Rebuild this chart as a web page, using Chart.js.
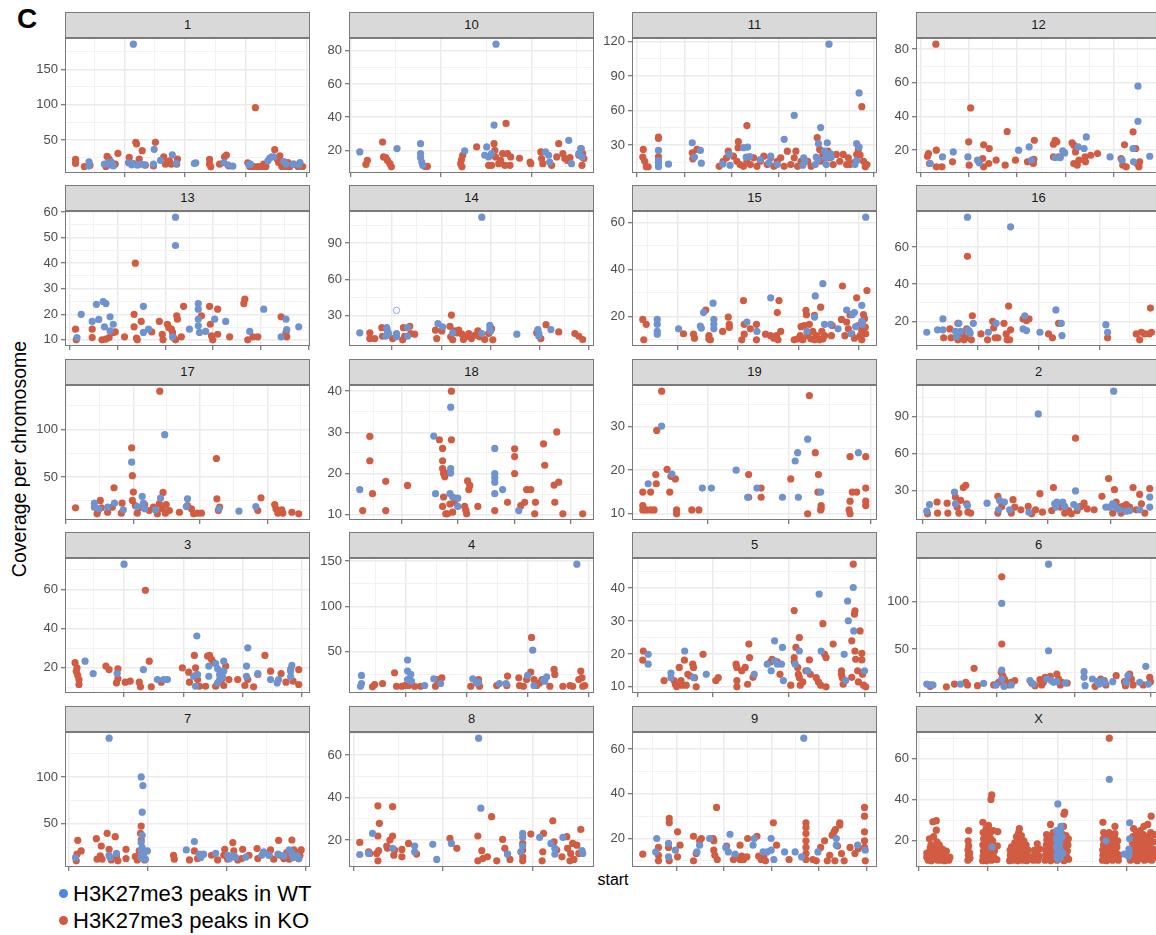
<!DOCTYPE html>
<html>
<head>
<meta charset="utf-8">
<script src="https://cdn.jsdelivr.net/npm/chart.js@4.4.1/dist/chart.umd.min.js"></script>
<style>
  body { margin: 0; width: 1156px; height: 935px; overflow: hidden; background: #fff; position: relative;
         font-family: 'Liberation Sans', Arial, sans-serif; }
  .strip { position: absolute; box-sizing: border-box; background: #d9d9d9; border: 1px solid #7a7a7a;
           text-align: center; line-height: 24px; font-size: 13px; color: #1a1a1a;
           font-family: 'Liberation Sans Narrow', 'Liberation Sans', Arial, sans-serif; }
  canvas.panel { position: absolute; }
  .lbl { position: absolute; white-space: nowrap; color: #000; }
  .dot { position: absolute; width: 9px; height: 9px; border-radius: 50%; }
</style>
</head>
<body>
<div class="lbl" style="left:17px;top:5px;font-size:28px;line-height:28px;font-weight:bold;">C</div>
<div class="lbl" style="left:-131px;top:447px;width:300px;text-align:center;font-size:19.5px;line-height:24px;transform:rotate(-90deg);">Coverage per chromosome</div>
<div class="lbl" style="left:563px;top:871px;width:100px;text-align:center;font-size:16px;line-height:18px;">start</div>
<div class="dot" style="left:59px;top:889px;background:#4a88e6;"></div>
<div class="lbl" style="left:73px;top:880px;font-size:22px;line-height:27px;">H3K27me3 peaks in WT</div>
<div class="dot" style="left:59px;top:916px;background:#d0583f;"></div>
<div class="lbl" style="left:73px;top:907px;font-size:22px;line-height:27px;">H3K27me3 peaks in KO</div>

<script>
// facet order as in the figure
const chromosomes = ['1','10','11','12','13','14','15','16','17','18','19','2','3','4','5','6','7','8','9','X'];

// [start (position across the panel, 0-100), coverage]
const chr1_wt = [[9.8,19],[9.8,13],[16.1,15.7],[17.7,18],[18.4,14.8],[19,18.6],[19.7,13.3],[25.9,17.6],[27.2,14.8],[27.9,185.7],[27.9,16.7],[29.5,14.3],[31.1,15.7],[32.5,14.8],[36.1,15.7],[36.4,36.7],[39,21],[43.8,29],[45.4,16.7],[52.8,16.7],[53.4,17.6],[64.8,18],[66.4,14.8],[68.5,12.9],[75.1,14.8],[75.7,15.7],[82.8,20.5],[83.6,24.3],[84.4,26.2],[85.2,26.2],[89.3,19.5],[90.2,15.7],[93.1,15.7],[95.4,14.8],[95.9,18]];
const chr1_ko = [[4.3,22.4],[4.3,16.7],[7.9,12.4],[10.2,14],[17.2,26.7],[18,22.9],[21.6,31],[20.5,15.7],[16.7,12.4],[26.2,25.2],[28.9,46.7],[29.2,44.3],[31.5,34.8],[30.3,22.9],[32.8,14.3],[36.9,46.7],[36.1,13.3],[40.3,26.2],[41,15.7],[41.8,18],[42.6,20.5],[45.9,22.9],[45.6,15.7],[43.4,15.7],[59,22.4],[59,15.7],[59.5,11.9],[63.1,15.7],[65.1,26.2],[65.9,28.6],[66.9,13.3],[77.7,95.7],[74.6,17.6],[75.4,12.4],[77,12.4],[78.7,12.4],[80.3,12.4],[82,12.4],[81.1,15.7],[85.6,36.2],[86.6,22.9],[87.2,18],[88.5,12.4],[90.2,12.4],[91.8,12.4],[93.4,15.7],[95.1,12.4],[97,12.4],[91,18],[87.7,27.6]];

const chr10_wt = [[4.4,19],[19.6,21],[29.2,24],[29.2,18],[29.2,15.6],[29.7,12.9],[30.1,10.9],[47.2,19.6],[56.2,22],[55.4,17],[57,16],[58.2,18],[60,84],[59.2,35.2],[80.2,19],[81.5,17],[81.9,12.9],[89.7,26],[90.8,11.9],[93.8,18],[94.8,21],[95.1,16]];
const chr10_ko = [[6.9,11.5],[7.5,13.9],[13.7,25],[14.1,16],[15,15.6],[15.7,13.9],[16.7,11.9],[17.3,10],[30.9,10.3],[32,10.3],[45.6,11.9],[45.9,14.3],[46.4,17],[46.1,10],[52.1,22],[64.1,36.2],[59.2,24],[59.5,20],[59.8,16],[58.2,10.9],[61.1,11.9],[62.7,18],[64.7,18],[66,16],[63.6,10.9],[57,10.9],[65.7,10.9],[61.9,13.9],[69.6,15.2],[73.9,12.9],[74.2,11.9],[78.3,19],[78.6,15],[79.1,11.9],[82.7,10.9],[84.8,16],[85.6,24],[87.3,18],[88.1,15],[89.2,13.9],[90.2,15.6],[93.8,17],[94.6,21],[95.1,10.9],[95.4,18],[95.9,15]];

const chr11_wt = [[10.8,25.3],[10.8,16.5],[10.8,14.5],[10.8,11.2],[14.9,13.3],[24.6,32],[25.5,19.5],[27.9,25.3],[28.3,14.2],[37,13.6],[39.7,21.8],[40,12.4],[45.5,27.7],[47.2,28.2],[46.6,19.5],[48,20],[52.4,17.4],[55.9,14.5],[56.6,20.3],[59.3,13],[62.1,35],[66.2,55.8],[70.1,18.9],[69.7,12.4],[70.6,15.9],[77,45.2],[76.1,31.2],[75.2,19.5],[75.9,17.4],[74.8,13],[78.6,24.7],[79.3,13],[78.9,18.9],[79.7,32],[80.4,117.9],[81.1,22.4],[81.4,19.5],[91.7,31.2],[92.7,28.2],[91,13],[91.7,16.5],[92.7,75.4]];
const chr11_ko = [[4.6,26.2],[4.4,19.5],[5.2,15.9],[5.8,11],[6.6,11],[10.8,37],[10.8,35.9],[10.8,19.7],[24.6,23.3],[24.8,18],[26.5,26.2],[35.6,11.5],[37.2,15.9],[38.6,18.9],[39.3,24.7],[41.4,20.3],[42.8,15.9],[43.4,32.9],[43.3,27.7],[44.1,13],[45.5,11.5],[46.9,47],[46.9,15.9],[48.3,13],[49.7,18.9],[51,11.5],[52.4,15.9],[53.8,20.3],[55.2,13],[56.6,18.9],[57.9,11.5],[59.3,15.9],[60.7,18.9],[62.1,11.5],[63.4,24.7],[64.8,13],[66.2,18.9],[66.9,24.7],[67.6,11.5],[69,15.9],[73.1,11.5],[71.7,15.9],[75.6,36.4],[76.6,26.2],[77.2,15.9],[77.9,21.8],[80,24.7],[80.7,18.9],[82.1,13],[83.4,21.8],[84.8,15.9],[86.2,21.8],[87.6,13],[88.3,18.9],[89,13],[90.3,14.5],[91.7,21.8],[92.4,26.2],[93.1,21.2],[93.8,63.4],[94.5,15.9],[95.2,11],[95.9,13]];

const chr12_wt = [[5.8,12.1],[10.8,16],[15.2,19],[21.2,16],[25.1,14.1],[25.8,12.5],[41.9,20],[46.2,22],[47.2,14.1],[56.8,15.6],[58.9,15.6],[59.9,19.6],[60.7,18.4],[66.2,22],[68.6,21],[69.5,27.9],[79.2,16],[84.1,14.1],[88.6,21],[88.8,13.1],[90.6,37.2],[90.6,58],[95.4,16.4]];
const chr12_ko = [[8.1,83],[4.7,16.4],[5.1,18],[5.5,12.1],[8.3,20],[8.3,10.1],[10.6,10.1],[14.9,13.1],[22.3,45.1],[21.5,25],[21.7,11.1],[27.6,23.2],[29.9,21],[27.2,15],[27.6,10.1],[29.7,12.1],[32.7,14.1],[36.4,11.1],[37.2,31.1],[40.6,14.1],[45.5,13.1],[47.9,12.1],[48.1,14.5],[48.3,25.9],[56.1,23.6],[56.8,25.9],[57.5,25],[56.1,16],[58.2,16],[63.7,24.4],[64.4,23],[65.1,19],[64.4,12.1],[65.8,11.1],[66.5,14.1],[69,16],[69.2,13.1],[71.3,17],[74.1,18],[83.7,15],[84.4,11.1],[85.1,23.2],[85.8,10.1],[88.6,30.9],[89.7,21],[90.2,12.1],[91,10.1],[91.3,13.1]];

const chr13_wt = [[4.9,10.9],[6.6,20],[11.1,17.2],[12.8,23.9],[13.8,18],[15.6,25],[16.7,24.2],[16.1,15.1],[18.4,19],[18.4,13.5],[19.7,16.1],[32,23.1],[32,12.9],[34.1,14.2],[45.1,58],[45.1,46.9],[43.9,11.2],[50.8,14.2],[54.4,24.2],[54.4,22],[54.4,18.1],[54.4,15.5],[54.9,12.9],[57.4,13.3],[61.1,18.1],[65.6,17.2],[75.4,13.3],[81.1,22],[88.2,11.2],[90.2,18.1],[90.5,14],[95.4,15.1]];
const chr13_ko = [[4.3,14.2],[4.6,10],[11.1,14.2],[11.1,10.9],[15.1,10],[16.7,10.3],[18,10.9],[19.7,12.9],[20.5,13.1],[24.3,11.2],[28.7,40],[28.2,20],[28.2,15.1],[29.2,10.7],[29.5,10],[31.1,17.2],[35.4,13.1],[38.5,17.2],[39.7,12.2],[40,10],[41.8,16.1],[42.3,14.8],[43.4,14.2],[43.9,12.9],[44.3,10.9],[45.1,10],[45.6,19.4],[45.9,18.1],[47.5,11.2],[48.4,23.1],[55.7,19.4],[59,23.1],[59.3,16.1],[59.8,11.6],[60.3,10],[62.3,22],[62.3,12.2],[67.2,11.2],[73,24.2],[73.4,25.9],[74.6,10],[76.7,11.2],[78.7,11.2],[88.2,19],[90.2,12.9],[90.5,11.2]];

const chr14_wt = [[4.4,15.8],[15.4,20.1],[15.7,17.4],[16.2,15.2],[15,13],[19.4,15.2],[19.4,12.5],[23.9,20.1],[23.9,13],[36.3,23.4],[38.2,20.7],[42.3,15.8],[54.2,111.6],[54.2,15.2],[57.5,22],[57.5,19.3],[57.8,17.4],[68.5,14.7],[77.1,18.5],[77.5,15.2],[77.5,13],[82.4,18.5]];
const chr14_ko = [[8.5,15.8],[8.5,11.1],[10.5,11.1],[13.4,20.1],[13.7,13],[17.8,11.1],[21.9,10],[22.2,20.1],[22.7,13],[24.8,21.2],[25.2,15.2],[26.8,14.7],[35.3,18],[35.8,11.1],[37.9,17.4],[41.2,21.2],[41.8,30.5],[41.5,12.5],[42.3,10],[43.1,17.4],[44,15.8],[44.8,18],[46.1,14.7],[46.7,10.3],[47.7,12.5],[48.9,15.2],[50,11.1],[51.3,13.8],[52.6,17.4],[53.3,12.5],[55.4,10.3],[57,15.2],[58.2,19.3],[58.7,10],[76.6,15.8],[78.3,11.1],[80.4,22.6],[85.6,16.6],[92.2,15.2],[93.8,13],[95.4,10.3]];
const chr14_open = [[19.4,34.4]];

const chr15_wt = [[10.3,18.7],[10.3,16.6],[10.3,13.6],[10.3,12.4],[19,14.7],[27.9,15.9],[28.3,15],[29.2,21.6],[33.1,25.6],[33.4,18.7],[33.4,16.6],[33.4,14.7],[46.9,17.6],[51,13.6],[56.6,27.9],[71.4,13.6],[74.5,19.7],[74.8,28.7],[77.9,33.9],[78.6,16.6],[81.1,16.6],[84.1,14.7],[87.6,22.7],[89.9,20.7],[90.8,21.6],[89.4,12.6],[91.3,15.6],[93.8,24.7],[93.8,17.9],[94.1,16.6],[95.4,62.2]];
const chr15_ko = [[4.4,18.7],[5.8,16.6],[4.8,10],[21,12.6],[25.1,12.4],[25.5,10.7],[30.1,22.7],[31.4,11.8],[31.4,10.4],[32,10],[37,13.6],[39.3,19.7],[39.7,16.6],[39.7,15.3],[45.5,26.7],[45.8,16.6],[45.8,12.4],[44.8,10],[48.3,14.7],[50.8,16.6],[50.8,10],[54.5,12.4],[56.6,11.8],[57.9,10.7],[59,11.8],[59.6,10],[60.7,13.6],[59.3,21.6],[60,26.7],[66.2,10],[67.6,10.4],[68.7,11.8],[69,15.6],[70.3,16.1],[69.7,10],[71,22.6],[71.2,20.7],[71.7,11.8],[72.4,16.6],[73.1,10.4],[73.8,13.6],[74.5,20.4],[75.2,11.8],[75.9,10.7],[76.6,10],[77,23.9],[77.5,13.6],[77.9,10.4],[74.5,10],[78.6,11.8],[81.4,11.8],[81.7,16.1],[85.5,18.7],[85.9,32.9],[86.9,11.8],[87.6,17.6],[89,20.7],[88.3,14.7],[89.7,12.6],[90.8,10.7],[91.7,27.9],[92.4,16.1],[93.1,11.8],[93.8,10],[94.5,20.7],[94.9,19],[95.2,15.4],[95.4,12.6],[95.9,31],[93.8,14]];

const chr16_wt = [[4.4,14.1],[8.8,15.4],[11,15.4],[11,21.3],[16.1,14.6],[16.6,11.8],[17.5,18.9],[18.2,14.6],[21,76.1],[21.2,15.4],[21.8,14.6],[22.1,13.6],[23.4,18.9],[29.5,14.1],[32.7,18.9],[38.6,70.9],[44.4,23],[43.7,15.9],[45.1,15],[50.6,14.1],[57.1,26.1],[59.3,18.9],[59.6,12.3],[77.5,18.2],[78.2,14.1]];
const chr16_ko = [[11.3,11.1],[13.8,15.9],[14.3,11.1],[17.1,18.9],[18.9,13.2],[17.1,10],[19.6,10],[21,55],[20.7,15.9],[20.3,11.1],[22.6,10],[23,23],[26.5,13.2],[29.2,10],[31.3,20],[31.7,16.4],[32.3,11.1],[33.4,11.1],[35.9,18.9],[36.8,13.2],[37.2,10],[37.8,28.2],[38.6,15.4],[38.2,10],[43.7,21.3],[45.1,20.4],[46.1,21.3],[54.1,13.2],[55.7,11.1],[58.2,18.9],[78.2,11.1],[89.9,13.2],[91.3,10],[92,14.1],[93.4,13.2],[95.2,13.2],[95.7,27.1],[96.1,14.1]];

const chr17_wt = [[12,22.5],[12,18.3],[13.9,16.6],[17.4,18.3],[20.2,22.5],[23.8,15.5],[27.2,65.5],[29.5,19],[31.5,29.6],[32,22.5],[32.5,16.6],[36.9,15.5],[39,27.8],[40.7,94.4],[50,27.1],[49.5,19],[62.8,16.6],[71,14.1],[77.9,19]];
const chr17_ko = [[4.3,17.6],[13.1,11.3],[13.4,14.1],[14.4,25.4],[14.8,17.6],[17.4,13],[20,38.7],[19.3,18.3],[23.3,22.5],[23,12],[27.2,80.6],[27.5,51.4],[27.5,25.4],[27.9,34.2],[28.7,20.1],[29.5,12],[30.3,17.6],[32.5,21.1],[34.4,14.8],[36.1,18.3],[37.7,11.3],[38.5,21.8],[38.7,140.1],[39.7,16.6],[40,33.8],[41,12],[41.3,21.1],[42.6,14.8],[46.7,13],[50,20.1],[51.6,16.6],[52.5,11.3],[54.1,12],[55.7,12],[61.8,69.4],[62,27.1],[62.6,14.8],[63.1,18.3],[78.7,14.8],[80,28.2],[85.6,21.1],[86.1,16.6],[86.9,12],[88.5,15.5],[88.9,12],[92.6,13],[95.4,11.3]];

const chr18_wt = [[4.4,16.1],[34.6,29.1],[35.3,15.1],[41.5,36.1],[41.5,21.2],[41.5,20.1],[41.2,15.1],[42.3,14.3],[44.4,14],[44.4,12],[59.5,26.1],[59.5,20],[59.5,19],[59.5,17.9],[59.5,15.1],[62.7,16.1],[69.3,11]];
const chr18_ko = [[5.6,11],[8.5,29],[8.5,23.1],[9.6,15.1],[15,18.1],[15,11],[23.9,17.1],[36.9,28.2],[38.2,26.1],[38.2,23.1],[38.2,21.2],[38.6,20],[39.1,19.2],[39.5,20.1],[38.2,12],[38.6,14.3],[39.5,10.2],[41.8,40],[41.8,28.2],[41.2,12.6],[40.2,10.2],[42.3,10.6],[43.1,13],[47.2,12],[47.7,11.1],[48,10.2],[48.4,18.2],[48.9,16.1],[49.3,17.1],[52.6,12],[59.5,11],[64.7,13],[67.6,26],[67.6,24.1],[67.6,20],[70.1,12.2],[71.7,13],[72.5,16.1],[74.2,16.1],[75.8,10.2],[76.1,13],[79.4,27.2],[79.9,22],[83.7,17.2],[84,13],[84.8,30.1],[85.6,17.9],[87.3,10.2],[95.4,10.2]];

const chr19_wt = [[6.6,16.9],[12.1,30.1],[16.3,19.1],[28.7,15.9],[32.4,15.9],[42.5,20],[47.2,13.8],[51,15.9],[61.4,13.8],[66.6,22.1],[67.6,24],[71.7,27.1],[67.9,13.8],[77,15],[92.4,24]];
const chr19_ko = [[4.4,15],[4.4,11.9],[4.4,10.9],[5.8,10.9],[7.6,15],[7.6,10.9],[9,10.9],[9.7,19],[9.9,16.9],[10.1,29.1],[12.1,38.1],[14.3,20.2],[15.9,18.6],[17.7,18],[15.4,15],[18.2,10.9],[18.2,10],[24.4,10.9],[27.3,10.9],[47.6,19],[47.6,13.8],[52.7,15.9],[52.7,13.8],[64.8,18],[72.4,37.1],[74.8,24],[76.1,19],[75.9,15],[77.2,11.9],[77.2,11.2],[77,10.9],[71.7,10],[89,23.1],[89,12.9],[88.6,10.9],[89,10],[89.9,15],[91.7,15],[95.4,15.9],[95.4,12.9],[95.4,11.9],[95.4,23.1]];

const chr2_wt = [[4.4,13.1],[5.5,18.5],[15.7,28.6],[16.1,19.1],[21,17.7],[29,19.6],[33.7,14.2],[34.1,21.8],[36.1,20.5],[38.2,14.2],[46.1,12.3],[49.9,91.9],[56.6,19.1],[57.1,16.4],[57.5,20.5],[59.9,20.5],[60.7,16.9],[65.1,29.5],[64.4,18.5],[65.8,16.4],[77.5,16.4],[78.9,16.4],[80.7,110.4],[80.3,19.1],[81,17.7],[81.7,15.8],[83,14.2],[85.8,13.1],[87.2,13.6],[91.3,14.2],[95.4,24.5],[95.4,16.4]];
const chr2_ko = [[4.7,10.9],[8.6,20.5],[8.8,11.5],[12.7,19.6],[13,11.5],[16.1,24.5],[16.8,16.4],[17.5,11.5],[18.2,21.8],[19.3,32.2],[20.3,34.1],[20.7,19.1],[21.2,12.3],[22.3,11.5],[33.4,25.1],[33.4,11.5],[35,16.9],[38.9,11.5],[39.6,22.4],[40.3,16.4],[42.8,14.2],[45.8,16.9],[47.2,10.9],[48.8,14.2],[50.6,27.3],[51.6,12.3],[55.4,13.6],[56.1,32.2],[58.9,16.4],[60.7,11.5],[62.3,13.6],[63.4,10.9],[65.1,72.3],[65.8,13.6],[67.2,16.9],[68.6,19.6],[69.9,15],[72.7,14.2],[75.9,25.1],[78.6,39.5],[80.3,11.5],[81,30.5],[81.7,20.5],[82.3,16.4],[83.7,11.5],[84.4,16.9],[85.8,18.5],[87.2,16.4],[88.6,32.2],[89.9,14.2],[91.3,26.7],[92,19.1],[93.4,11.5],[95.4,31.4]];

const chr3_wt = [[8.2,23.4],[11.5,17.1],[21.3,17.1],[24.1,72.8],[32,19.1],[37.7,14],[40.2,14],[41.8,14],[53.8,36.2],[52.5,15.7],[53.3,10.6],[54.1,16.6],[58.7,20.9],[58.7,15.7],[61.5,22.2],[62.3,19.5],[63.1,16.6],[63.1,14],[62.3,12.3],[64.8,23.4],[64.8,18.3],[64.3,15.4],[74.6,30.2],[74.1,20.9],[74.1,15.7],[78.7,17.1],[83.9,14],[86.6,12.3],[87.2,14],[92.6,21.2],[92.1,18.3],[92.1,15.4]];
const chr3_ko = [[4.1,22.6],[4.6,18.3],[5.2,16.1],[5.7,14],[5.7,11.5],[4.9,20],[16.7,20.9],[18,19.1],[21.6,19.5],[21.6,14.4],[21,12.3],[24.6,12.7],[26.6,13.2],[30.3,12.7],[30.8,10.3],[32.8,59.5],[34.4,23.4],[35.2,10.3],[39.3,12.7],[47.9,20],[50.5,17.8],[50.8,12.7],[52.8,26.3],[53.3,20],[53.8,16.6],[54.1,14],[54.9,10.6],[57.4,10.6],[58.2,26],[59,26.3],[59.8,24.3],[60.7,22.6],[61.5,10.6],[63.9,14],[64.8,11],[65.6,20.9],[66.9,14],[70.5,14],[73.4,11],[74.6,14],[77,10.3],[78.7,16.6],[81.6,26.3],[83.9,18.3],[88.2,17.1],[90.2,12.7],[92.1,19.1],[93.1,13.2],[95.4,19.1],[95.4,11.5]];

const chr4_wt = [[5.1,23.6],[5.1,14.7],[4.7,11.7],[23.9,40.7],[23.9,28.4],[23.9,19.1],[25.2,24.7],[25.5,17.3],[30.9,12.5],[34.6,19.9],[37.4,14.7],[50.5,19.9],[52.1,15.4],[52.9,16.2],[61.4,14.7],[64.1,14.7],[72.9,23.6],[75.5,12.5],[75,51.5],[79.4,19.1],[80.7,22.1],[79.9,17.3],[93,146.6]];
const chr4_ko = [[9.6,11],[10.5,13.6],[13.7,14.7],[18.6,26.6],[19.4,11.7],[21.6,11.7],[22.7,12.5],[24.3,12.5],[26.8,11.7],[29.2,11.7],[35.8,19.1],[35.3,11.7],[37.9,21],[49.7,11.7],[52.9,19.1],[53.3,11.7],[60.3,12.5],[64.7,22.9],[64.4,12.5],[69.3,21],[69.6,12.5],[71.2,11.7],[72.5,19.1],[74.2,27.3],[74.5,65.6],[75.5,19.1],[76.6,12.5],[77.8,15.4],[78.8,19.1],[82,11.7],[83.7,30.3],[84,24.7],[87.3,11.7],[90.2,12.5],[91.3,11.7],[93.8,19.1],[94.6,28.4],[95.1,21],[95.4,11.7],[96.2,12.5]];

const chr5_wt = [[6.6,19.9],[6.6,16.9],[15.9,14.2],[15.9,12.8],[21.5,20.9],[25.1,12.9],[30.3,13.8],[49.9,13.8],[55.2,16.9],[56.8,14.9],[58.2,24],[58.2,17.9],[59.3,16.9],[61,16.9],[61.4,22],[61.8,11.9],[66.6,16.9],[68.3,20.9],[71.7,14.9],[76.4,38.2],[77.2,20.9],[86.6,19.9],[87.2,11.9],[88,36.1],[88.3,30.1],[90.3,40.2],[90.5,27],[94.9,14.9]];
const chr5_ko = [[4.6,20.9],[4.4,18.1],[13.1,11.9],[17.2,11.9],[17.7,10.8],[18.2,10.1],[19.3,15.9],[20,11.9],[20.4,10.5],[21.4,18.1],[22.1,10.5],[22.8,13.8],[23.7,13.3],[24.8,16.9],[25.1,15.9],[25.5,12.8],[26.2,10],[29,19.9],[34.2,11.9],[35.2,12.8],[42.5,16.9],[42.8,15.9],[42.8,11.9],[42.8,10],[44.8,14.9],[46.2,15.9],[47.2,10.8],[47.7,23],[48,18.9],[49.4,12.9],[56.6,17.6],[57.2,18.4],[59.3,17.6],[60.4,13.8],[64.8,10.5],[66.2,33.2],[66.2,18.9],[66.2,17.6],[66.9,22],[67.6,15.9],[67.9,13.8],[68.3,25],[68.3,12.8],[68.7,10.5],[69.7,11.5],[71,14.9],[72.4,18.2],[72.8,13.8],[75.2,12.8],[76.1,11.5],[77,10.5],[77.9,29.2],[78.6,19.9],[79.2,18.9],[79.2,10],[82.1,23],[85.5,14.9],[85.5,13.8],[85.8,12.8],[86.2,10.8],[89.7,24],[89.7,12.9],[90.3,47.3],[90.8,32.1],[91,33.1],[91,20.9],[91.3,18.4],[92.1,14.9],[92.4,11.5],[93.1,27],[93.8,20.2],[93.8,18.2],[94.1,13.8],[94.5,10.5],[95.4,10]];

const chr6_wt = [[4.4,13],[5.8,12],[6.9,12],[18.2,13],[27.6,13.7],[32.7,12],[35,27.8],[35,18.3],[35,98.2],[35.9,10.6],[38.9,12],[46.5,16.6],[47.9,13],[54.1,139.8],[54.1,48.2],[53.4,18.3],[55.2,16.6],[56.1,14.8],[57.5,15.5],[61,14.1],[68.6,26.1],[68.6,20.1],[69,11.3],[72,18.3],[74.1,15.5],[74.8,13],[76.1,16.6],[77.2,14.1],[80.3,15.5],[85.8,14.8],[86.5,21.8],[91.3,14.8],[93.8,31.7],[94.8,13]];
const chr6_ko = [[5.8,10.6],[12.4,10],[15.7,13],[20.3,14.8],[21,12],[23.7,29.6],[25.1,11.3],[31.7,12],[33.7,14.8],[35,126.4],[35,55.3],[34.8,25.4],[35.4,21.8],[36.1,18.3],[36.8,14.8],[37.5,12],[38.9,14.8],[40.3,16.6],[47.2,14.1],[48.6,11.3],[50.6,17.6],[51.3,12],[52,14.8],[52.7,20.1],[54.8,21.1],[57.5,23.6],[58.2,18.3],[58.9,12],[59.6,14.8],[61.7,14.1],[73.1,10.6],[74.1,15.5],[75.4,18.3],[76.8,16.6],[77.5,12],[81.7,21.8],[85.1,15.5],[85.5,11.3],[87.2,23.6],[87.9,18.3],[88.6,12],[92.7,12],[95.4,20.1],[95.7,15.5]];

const chr7_wt = [[4.3,13.8],[18,141.5],[18,16.3],[18.4,13.8],[21,18.4],[31.1,100],[31.8,90.8],[31.5,62.4],[31.5,37.6],[31.1,29.8],[31.5,24.5],[31.1,20.9],[32,17.4],[31.1,13.8],[32.8,12.1],[33.6,20.9],[49.5,22],[52.8,30.9],[54.9,17.4],[55.4,13.8],[56.6,17.4],[61.5,18.4],[66.4,16.3],[67.2,12.8],[68.9,15.6],[69.7,13.8],[73.8,14.2],[80.3,16.3],[81.1,19.9],[83.3,16.3],[86.9,17.4],[89.3,15.6],[91.5,22],[92.6,19.2],[93.1,13.8],[94.8,15.6],[95.4,12.8]];
const chr7_ko = [[4.6,10.3],[4.9,17.4],[5.2,32.3],[6.6,20.9],[12.8,34],[13.1,12.1],[14.4,15.6],[14.8,26.2],[15.1,12.1],[17.2,39.7],[18,22.7],[18.9,11.3],[20.5,36.2],[21,15.6],[21.6,10.3],[24.9,22.7],[24.9,12.8],[28.7,14.9],[29.5,11.3],[30.8,39.7],[31.1,32.6],[30.3,20.9],[32,15.6],[32.5,11.3],[31.1,47.5],[44.3,16.3],[44.6,12.1],[50.8,11.3],[52.8,20.9],[54.1,12.8],[59.8,16.3],[62.3,11.3],[64.8,16.3],[65.2,22.7],[66.4,12.1],[68.5,29.8],[68.9,20.9],[70.5,11.3],[72.1,12.8],[72.5,22.7],[75.1,16.3],[78.4,23.4],[78.7,12.8],[81.1,19.2],[83.3,16.3],[83.9,22],[85.2,12.1],[87.2,32.3],[87.7,16.3],[89.3,12.8],[90.5,19.2],[91.5,12.1],[92.6,32.6],[93.4,22],[94.8,19.2],[95.4,12.8],[96.4,22],[95.9,16.3]];

const chr8_wt = [[4.4,13.2],[8,13.7],[9.6,23.1],[17.8,16.1],[26.8,17.2],[26.8,14.5],[34.2,18],[35.8,10.9],[41.8,18.4],[52.9,68],[53.8,35],[64.7,13.4],[70.1,14.5],[70.9,23.1],[70.9,21.3],[70.9,17.2],[77.8,21.3],[82.4,18.4],[84,16.1],[84,13.4],[87.3,21.3],[95.1,15],[95.4,13.7]];
const chr8_ko = [[4.4,18.9],[8,14.5],[8.5,13.7],[11.3,13.7],[11.8,21.9],[11.8,36.1],[12.4,27.9],[12.1,15],[11.8,10.2],[15.4,17.2],[15.7,16.1],[16.7,20],[17.8,35.7],[17.8,21.9],[18.3,12.9],[18.6,15.3],[21.6,15.6],[21.6,12.1],[24.3,18.4],[27.6,13.4],[41.2,20.8],[44,16.1],[52.6,21.9],[52.6,10.2],[54.2,15],[54.6,11.3],[56.5,12.1],[58.2,31],[62.7,20.3],[63.6,16.1],[64.7,13.4],[65.7,10.9],[60.3,10.2],[70.9,18.4],[70.9,15.3],[70.9,12.1],[70.9,10.2],[74.2,22.8],[78.8,10.2],[79.1,14.5],[79.4,23.1],[83.2,29.1],[83.7,19.2],[84.8,15.3],[86.9,12.1],[88.9,21.6],[89.2,16.1],[90.2,10.2],[90.5,13.7],[91.3,18.4],[91.8,10.9],[93,17.6],[93.8,13.7],[94.6,25]];

const chr9_wt = [[9.7,14],[10.1,20],[14.9,17.8],[14.9,11.8],[17.7,14.8],[26.5,14],[27.6,17],[31.7,20],[38.3,16],[39.3,14],[40,21.9],[42.1,13],[49.4,17],[49.9,20],[53.5,14],[55.2,14],[56.8,20],[56.8,14.8],[57.9,10.6],[62.3,14],[66.6,14],[69.2,11.8],[70.1,64.9],[75.9,14],[83.4,20],[83.4,17],[92.1,17],[95.2,14.8]];
const chr9_ko = [[4.4,13],[10.8,16],[10.8,12.5],[10.8,10],[15.2,29],[15.2,27],[14.9,16],[15.2,10],[18.6,23],[18.6,11.8],[19.6,17],[25.1,21],[25.1,10],[26.2,13.3],[27.6,19],[28.3,20],[33.1,20],[33.4,19],[33.4,14.8],[33.8,12.5],[34.5,33.9],[34.8,10.6],[38.6,16.6],[41.4,10.6],[42.1,12.5],[44.1,17],[44.1,10.6],[44.8,12.1],[45.5,10.6],[46.9,11.8],[47.2,20],[51,21],[51.7,12.1],[52.7,10.6],[53.8,12.1],[54.5,10],[57.7,27],[59,17],[64.1,10.6],[71,27],[71,24.9],[71,22.2],[71,19],[71,16],[71,13.3],[71,10.6],[73.8,10.6],[75.2,10],[77,16],[78.6,19],[79.7,10],[80.7,12.5],[81.7,21.5],[82.5,23],[83,24],[83.9,16.6],[84.8,27],[84.8,26],[85.5,13.3],[86.6,10],[89,16],[92.4,15.5],[94.9,33.9],[94.9,30],[94.9,23],[94.9,19],[94.9,16],[95.2,10],[91,13.3],[82.8,10]];

const chrX_wt = [[31,17],[57.9,38],[57.5,12],[57.7,14],[57.9,16],[58.1,18],[57.6,20],[57.8,22],[58,24],[58.2,13],[58.4,15],[58.6,17],[58.3,19],[58.5,21],[58.7,23],[58.9,25],[59.2,27],[57.3,17],[57.2,21],[57.4,25],[59,12],[59.3,14.5],[58.8,19.5],[58.1,11],[60,14],[59.6,22],[77.5,20],[78.9,50],[87.2,28.8],[87.2,21],[86.9,16],[87,14],[86.7,12.5],[85,13.5]];
const chrX_ko = [
  [4.4,12],[4.4,14],[5,10.5],[5.8,16.5],[5.8,12.5],[5.5,21],[6.1,18],[6.3,10.2],[6.9,14.5],[6.9,29.3],[7.2,22],[7.4,11.5],[7.6,17],[8,13],[8.3,29.8],[8.3,25.2],[8.5,19.5],[8.5,15.5],[8.8,10.5],[9,12],[9.5,18],[9.8,14.5],[10.3,10.5],[10.8,16],[11.2,12.5],[11.7,10.3],[12.4,15],[13.4,10.5],[13.8,12],
  [21.2,10.5],[21.4,13],[21.2,15.5],[21.5,17.5],[21.3,20],[21.5,25],[22,11.5],[21.9,14],
  [27.2,10.3],[27.4,12.5],[27.5,15],[27.3,18],[27.6,21],[27.4,24],[27.3,29],[28,11],[28.2,14],[28.4,17],[28.3,20],[28.5,23],[28.6,26],[28.8,10.2],[29,12.8],[29.2,16],[29.3,19],[29.5,22],[29.4,25],[29.6,27.5],[30.6,40.2],[30.9,42.4],[30.1,11.5],[30.3,14.5],[30.2,18],[30.5,21],[30.4,24],[30.8,10.5],[31,13],[31,16.5],[31.3,20],[31.5,25],[31.8,12],[32,15],[33,10.8],[33.2,17.5],[33.4,24.5],
  [38.2,10.3],[38.5,13],[38.4,15.5],[38.8,11.5],[39,17],[39.3,14],[39.6,10.5],[39.8,12.5],[40.1,16],[40.3,19],[40.5,11],[40.8,14.5],[41,22],[41.2,17.5],[41.5,10.2],[41.6,13],[41.9,24],[42,20],[42.2,26],[42.3,15.5],[42.6,11.5],[42.8,18],[43,22.5],[43.2,13.5],[43.5,10.5],[43.8,16.5],[44,20],[44.3,12],[44.6,14.5],[44.9,18],[45.2,10.3],[45.5,12.8],[45.8,15.5],[46.2,11],
  [47.9,10.5],[48.2,13],[48.4,15.5],[48.8,11.5],[49.1,14],[49.5,18.5],[49.8,10.5],[50.2,12.5],[50.5,16],
  [52.7,10.5],[52.9,13],[53,15.5],[53.2,18],[53.4,20.5],[53.3,23],[53.8,11.5],[54,14],[54.2,17],[54.4,19.5],[54.6,22],[54.9,28],[55,10.2],[55.2,12.5],[55.4,15.5],[55.6,18.5],[55.8,21],[56,24],[56.4,11],[56.6,13.5],[56.8,16.5],[57,19.5],[57.2,22.5],[57.6,10.5],[57.8,12.8],[58,15.5],[58.2,18],[58.6,21],[59,24.5],[59,11.5],[59.3,14],[59.6,17],[59.8,20],[60,23],[60.2,27],[60.4,10.3],[60.6,13],[60.8,16],[61,19.5],[61.2,22.5],[60.4,33],[60.7,34],[61.5,12],[61.8,15],[62,18],[62.2,21],[62.3,11],
  [76.1,10.5],[76.3,13],[76.2,15.5],[76.5,18],[76.4,21],[76.6,24],[76.3,29],[77,11.5],[77.2,14],[77.3,17],[77.5,22.5],[77.8,10.3],[78,12.5],[78.2,15.5],[78.4,18.5],[78.6,21.5],[78.8,24],[78.9,70.1],[79,11],[79.3,13.5],[79.5,16.5],[79.7,19.5],[79.9,22.5],[80.2,10.5],[80.4,13],[80.6,15.5],[80.8,18.5],[81,21.5],[81.2,23.5],[81.5,11.5],[81.8,14],[82,17],[82.3,20],[82.6,10.5],[82.9,13],[81.2,27],
  [87.5,10.5],[87.8,13],[88,16],[88.3,19],[88.5,22],[88.8,26],[89.2,11],[89.4,14],[89.6,17.5],[89.8,21],[90,24],[90.3,10.3],[90.5,12.5],[90.8,15.5],[91,18.5],[91.3,21.5],[91.5,25],[91.8,11.5],[92,14],[92.3,17],[92.5,20],[92.8,23],[93,27],[93.2,10.5],[93.5,13],[93.8,16],[94,19],[94.3,22],[94.6,28],[94.8,11],[95,14.5],[95.3,17.5],[95.5,20.5],[95.8,24],[96,32],[96.2,10.5],[96.5,13],[96.8,16],[97,19.5],[97.3,23],[97.6,12],[97.9,15]
];

const wtSeries = [chr1_wt, chr10_wt, chr11_wt, chr12_wt, chr13_wt, chr14_wt, chr15_wt, chr16_wt, chr17_wt, chr18_wt, chr19_wt, chr2_wt, chr3_wt, chr4_wt, chr5_wt, chr6_wt, chr7_wt, chr8_wt, chr9_wt, chrX_wt];
const koSeries = [chr1_ko, chr10_ko, chr11_ko, chr12_ko, chr13_ko, chr14_ko, chr15_ko, chr16_ko, chr17_ko, chr18_ko, chr19_ko, chr2_ko, chr3_ko, chr4_ko, chr5_ko, chr6_ko, chr7_ko, chr8_ko, chr9_ko, chrX_ko];

// y tick labels per facet
const yTicks = [[50,100,150],[20,40,60,80],[30,60,90,120],[20,40,60,80],[10,20,30,40,50,60],[30,60,90],[20,40,60],[20,40,60],[50,100],[10,20,30,40],[10,20,30],[30,60,90],[20,40,60],[50,100,150],[10,20,30,40],[50,100],[50,100],[20,40,60],[20,40,60],[20,40,60]];
// x break positions per facet (no labels shown)
const xBreaks = [[24.3,48.9,73.6,98.5],[0.7,37.6,74.5],[2.1,21.4,40.7,60,79.2,98.6],[1.9,21.5,41.2,61,80.6],[2,21.5,41,60.5,80,99.5],[17.3,37.7,57.8,77.9,98],[18.6,43.2,67.9,92.4],[0.3,25.1,49.9,74.8,99.6],[0.5,27.9,55.2,82.6],[21.4,44.4,67.6,90.4],[31,64.1,97.3],[2.8,28.3,53.8,79.5],[23.8,48.4,72.7,96.7],[23.2,48,72.9,97.7],[2.3,33.1,64,94.8],[1.7,33.1,64.6,96],[1.6,33.9,66.1,98.4],[1.8,38.2,75],[18.2,37.5,57,76.3,95.9],[1.1,29.4,57.8,86.2]];

const WT_COLOR = '#6f93cf';
const KO_COLOR = '#d15c41';
const colLeft = [65, 349, 632, 916];
const rowTop = [12, 185, 359, 532, 706];
const PW = 245, PH = 135, STRIP = 26, AXW = 40, BOT = 10;
const TICK_FONT = "'Liberation Sans Narrow', 'Liberation Sans', Arial, sans-serif";

function minorBreaks(major, lo, hi) {
  const n = major.length, out = [];
  const s0 = n > 1 ? major[1] - major[0] : hi - lo;
  const s1 = n > 1 ? major[n - 1] - major[n - 2] : hi - lo;
  out.push(major[0] - s0 / 2);
  for (let i = 0; i < n - 1; i++) out.push((major[i] + major[i + 1]) / 2);
  out.push(major[n - 1] + s1 / 2);
  return out.filter(v => v > lo && v < hi);
}

function gridTicks(major, lo, hi) {
  const t = major.filter(v => v >= lo && v <= hi).map(v => ({value: v, minor: false}));
  minorBreaks(major, lo, hi).forEach(v => t.push({value: v, minor: true}));
  return t.sort((a, b) => a.value - b.value);
}

const isMinor = c => c.tick && c.tick.minor;
const gridStyle = {
  color: c => isMinor(c) ? '#f2f2f2' : '#ebebeb',
  lineWidth: c => isMinor(c) ? 1 : 1.5,
  tickLength: 4,
  tickWidth: 1,
  tickColor: c => isMinor(c) ? 'rgba(0,0,0,0)' : '#555'
};

const panelFrame = {
  id: 'panelFrame',
  afterDatasetsDraw(chart) {
    const {ctx, chartArea: a} = chart;
    ctx.save();
    ctx.strokeStyle = '#7a7a7a';
    ctx.lineWidth = 1;
    ctx.strokeRect(a.left + 0.5, a.top + 0.5, a.right - a.left - 1, a.bottom - a.top - 1);
    ctx.restore();
  }
};

function drawPanel(i) {
  const col = i % 4, row = Math.floor(i / 4);
  const left = colLeft[col], top = rowTop[row];

  const strip = document.createElement('div');
  strip.className = 'strip';
  strip.style.cssText = `left:${left}px;top:${top}px;width:${PW}px;height:${STRIP}px;`;
  strip.textContent = chromosomes[i];
  document.body.appendChild(strip);

  const canvas = document.createElement('canvas');
  canvas.className = 'panel';
  canvas.width = AXW + PW;
  canvas.height = STRIP + PH + BOT;
  canvas.style.left = (left - AXW) + 'px';
  canvas.style.top = top + 'px';
  document.body.appendChild(canvas);

  // ggplot-style 5% expansion of the data range
  const ys = wtSeries[i].concat(koSeries[i]).map(p => p[1]);
  const lo = Math.min(...ys), hi = Math.max(...ys);
  const yMin = lo - (hi - lo) * 0.05, yMax = hi + (hi - lo) * 0.05;

  const datasets = [
    {data: wtSeries[i], pointBackgroundColor: WT_COLOR, backgroundColor: WT_COLOR, pointRadius: 3.6, pointBorderWidth: 0, borderWidth: 0},
    {data: koSeries[i], pointBackgroundColor: KO_COLOR, backgroundColor: KO_COLOR, pointRadius: 3.6, pointBorderWidth: 0, borderWidth: 0}
  ];
  if (chromosomes[i] === '14') {
    datasets.unshift({data: chr14_open, pointBackgroundColor: '#fff', pointBorderColor: '#8fabdc',
                      borderColor: '#8fabdc', pointBorderWidth: 1, pointRadius: 3.2});
  }

  new Chart(canvas, {
    type: 'scatter',
    data: {datasets},
    options: {
      responsive: false,
      animation: false,
      events: [],
      devicePixelRatio: 1,
      layout: {padding: {top: STRIP, left: 0, right: 0, bottom: 0}, autoPadding: false},
      plugins: {legend: {display: false}, tooltip: {enabled: false}},
      scales: {
        x: {
          type: 'linear', min: 0, max: 100, bounds: 'data',
          border: {display: false},
          ticks: {display: false, autoSkip: false},
          grid: gridStyle,
          afterBuildTicks: s => { s.ticks = gridTicks(xBreaks[i], 0, 100); },
          afterFit: s => { s.height = BOT; s.paddingLeft = 0; s.paddingRight = 0; }
        },
        y: {
          type: 'linear', min: yMin, max: yMax, bounds: 'data',
          border: {display: false},
          ticks: {
            autoSkip: false, padding: 3, color: '#4d4d4d',
            font: {family: TICK_FONT, size: 13},
            callback: (v, k, t) => t[k].minor ? '' : String(v)
          },
          grid: gridStyle,
          afterBuildTicks: s => { s.ticks = gridTicks(yTicks[i], yMin, yMax); },
          afterFit: s => { s.width = AXW; s.paddingTop = 0; s.paddingBottom = 0; }
        }
      }
    },
    plugins: [panelFrame]
  });
}

chromosomes.forEach((c, i) => drawPanel(i));
</script>
</body>
</html>
